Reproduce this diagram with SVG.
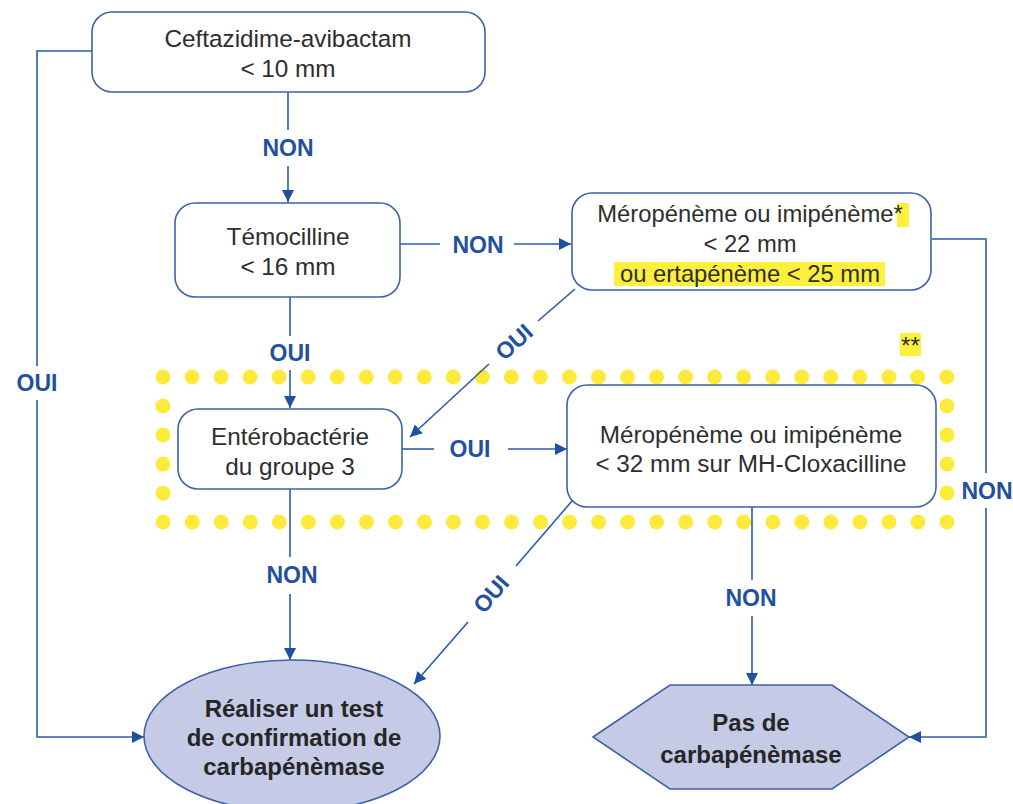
<svg xmlns="http://www.w3.org/2000/svg" width="1013" height="804" viewBox="0 0 1013 804">
<style>
.box{fill:#fff;stroke:#3f62a8;stroke-width:1.6}
.term{fill:#c5cbe6;stroke:#3f62a8;stroke-width:1.6}
.t{font-family:"Liberation Sans",Arial,sans-serif;font-size:24.3px;fill:#2e2e2e;text-anchor:middle}
.t2{font-size:23.8px}
.tb{font-family:"Liberation Sans",Arial,sans-serif;font-size:24px;font-weight:bold;fill:#262626;text-anchor:middle}
.lbl{font-family:"Liberation Sans",Arial,sans-serif;font-size:23px;font-weight:bold;fill:#1f51a0;text-anchor:middle}
.c{fill:none;stroke:#2a5ca8;stroke-width:1.6}
.a{marker-end:url(#arr)}
.hl{fill:#fdef3c}
</style>
<defs>
<marker id="arr" markerUnits="userSpaceOnUse" markerWidth="14" markerHeight="14" refX="12" refY="6" orient="auto">
<path d="M0,0 L12,6 L0,12 z" fill="#1f51a0"/>
</marker>
</defs>
<rect width="1013" height="804" fill="#fff"/>

<g id="dotted-zone">
<rect x="163" y="377" width="784" height="145" fill="none" stroke="#fdea3c" stroke-width="15" stroke-linecap="round" stroke-dasharray="0 29.0312"/>
<rect class="hl" x="900" y="333" width="21" height="23"/>
<text class="t" x="910.5" y="354">**</text>
</g>

<g id="connectors">
<path class="c" d="M288,92 V130"/>
<path class="c a" d="M288,166 V202"/>
<path class="c" d="M400,244 H440"/>
<path class="c a" d="M514,244 H571"/>
<path class="c" d="M290,297 V336"/>
<path class="c a" d="M290,370 V408"/>
<path class="c" d="M92,51 H37 V366"/>
<path class="c a" d="M37,400 V737 H144"/>
<path class="c" d="M932,239 H986 V473"/>
<path class="c a" d="M986,508 V737 H909"/>
<path class="c" d="M575,289 L538,321"/>
<path class="c a" d="M489,364 L410,437"/>
<path class="c" d="M402,449 H434"/>
<path class="c a" d="M508,449 H567"/>
<path class="c" d="M290,489 V557"/>
<path class="c a" d="M290,594 V660"/>
<path class="c" d="M572,501 L516,566"/>
<path class="c a" d="M468,622 L414,684"/>
<path class="c" d="M752,507 V580"/>
<path class="c a" d="M752,616 V685"/>
<text class="lbl" x="288" y="156">NON</text>
<text class="lbl" x="478" y="253">NON</text>
<text class="lbl" x="290" y="361">OUI</text>
<text class="lbl" x="37" y="391">OUI</text>
<text class="lbl" x="470" y="457">OUI</text>
<text class="lbl" x="292" y="583">NON</text>
<text class="lbl" x="751" y="606">NON</text>
<text class="lbl" x="987" y="499">NON</text>
<text class="lbl" transform="translate(514,342) rotate(-42)" y="8">OUI</text>
<text class="lbl" transform="translate(491,594) rotate(-49)" y="8">OUI</text>
</g>

<g id="ceftazidime">
<rect class="box" x="92" y="12" width="393" height="80" rx="20"/>
<text class="t" x="288" y="47">Ceftazidime-avibactam</text>
<text class="t" x="288" y="77">&lt; 10 mm</text>
</g>

<g id="temocilline">
<rect class="box" x="175" y="203" width="225" height="94" rx="20"/>
<text class="t" x="288" y="245">Témocilline</text>
<text class="t" x="288" y="275">&lt; 16 mm</text>
</g>

<g id="meropeneme1">
<rect class="box" x="572" y="193" width="359" height="97" rx="20"/>
<rect class="hl" x="897" y="203" width="12" height="24"/>
<rect class="hl" x="614" y="262" width="271" height="24"/>
<text class="t t2" x="750" y="222">Méropénème ou imipénème*</text>
<text class="t t2" x="750" y="252">&lt; 22 mm</text>
<text class="t t2" x="750" y="282">ou ertapénème &lt; 25 mm</text>
</g>

<g id="enterobacterie">
<rect class="box" x="178" y="409" width="224" height="80" rx="20"/>
<text class="t" x="290" y="445">Entérobactérie</text>
<text class="t" x="290" y="475">du groupe 3</text>
</g>

<g id="meropeneme2">
<rect class="box" x="567" y="385" width="369" height="122" rx="20"/>
<text class="t" x="751" y="443">Méropénème ou imipénème</text>
<text class="t" x="751" y="472">&lt; 32 mm sur MH-Cloxacilline</text>
</g>

<g id="confirmation">
<ellipse class="term" cx="292" cy="736" rx="148" ry="76"/>
<text class="tb" x="294" y="717">Réaliser un test</text>
<text class="tb" x="294" y="746">de confirmation de</text>
<text class="tb" x="294" y="775">carbapénèmase</text>
</g>

<g id="pas-de-carbapenemase">
<polygon class="term" points="593,737 670,685 832,685 909,737 832,789 670,789"/>
<text class="tb" x="751" y="731">Pas de</text>
<text class="tb" x="751" y="763">carbapénèmase</text>
</g>
</svg>
